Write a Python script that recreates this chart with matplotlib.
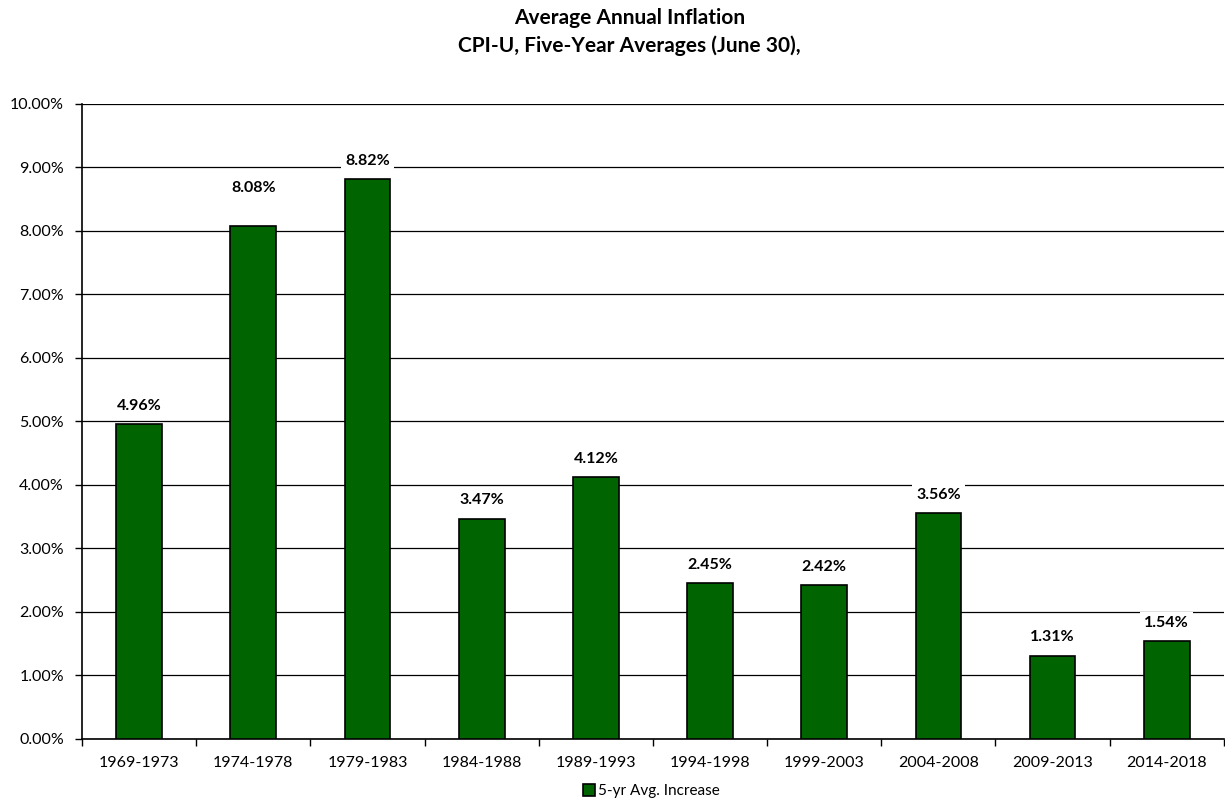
import matplotlib.pyplot as plt
import numpy as np
from matplotlib.ticker import FuncFormatter

periods = ['1969-1973', '1974-1978', '1979-1983', '1984-1988', '1989-1993',
           '1994-1998', '1999-2003', '2004-2008', '2009-2013', '2014-2018']
avg_increase = [4.96, 8.08, 8.82, 3.47, 4.12, 2.45, 2.42, 3.56, 1.31, 1.54]

plt.rcParams['font.family'] = ['Lato', 'DejaVu Sans']

fig = plt.figure(figsize=(12.25, 8.08), dpi=100)
ax = fig.add_axes([0.067, 0.0854, 0.932, 0.7859])

x = np.arange(len(periods))
bars = ax.bar(x, avg_increase, width=0.4, color='#006400', edgecolor='black',
              linewidth=1.2, zorder=3, label='5-yr Avg. Increase')

for i, (xi, v) in enumerate(zip(x, avg_increase)):
    # the 1974-1978 label sits higher in the original chart
    lift = 0.6 if i == 1 else 0.29
    ax.text(xi, v + lift, f'{v:.2f}%', ha='center', va='center', fontsize=11.5,
            fontweight='bold', zorder=4,
            bbox=dict(facecolor='white', edgecolor='none', pad=3))

ax.set_xlim(-0.5, len(periods) - 0.5)
ax.set_ylim(0, 10)
ax.set_yticks(np.arange(0, 10.01, 1))
ax.yaxis.set_major_formatter(FuncFormatter(lambda v, p: f'{v:.2f}%'))
ax.grid(axis='y', color='black', linewidth=0.9, zorder=0)

ax.set_xticks(x)
ax.set_xticklabels(periods)
ax.set_xticks(np.arange(-0.5, len(periods), 1), minor=True)
ax.tick_params(axis='x', which='major', length=0, pad=12, labelsize=11.5)
ax.tick_params(axis='x', which='minor', length=5, width=1, color='black')
ax.tick_params(axis='y', length=5, width=1, labelsize=11.5, pad=8)

for s in ['top', 'right']:
    ax.spines[s].set_visible(False)
ax.spines['left'].set_linewidth(1.2)
ax.spines['bottom'].set_linewidth(1.2)

fig.suptitle('Average Annual Inflation\nCPI-U, Five-Year Averages (June 30),',
             x=0.514, y=0.99, fontsize=15, fontweight='bold', linespacing=1.45)

fig.legend(loc='lower center', bbox_to_anchor=(0.532, -0.005), frameon=False,
           fontsize=11, handlelength=0.8, handleheight=0.8, handletextpad=0.2)

fig.savefig('out.png', dpi=100)
